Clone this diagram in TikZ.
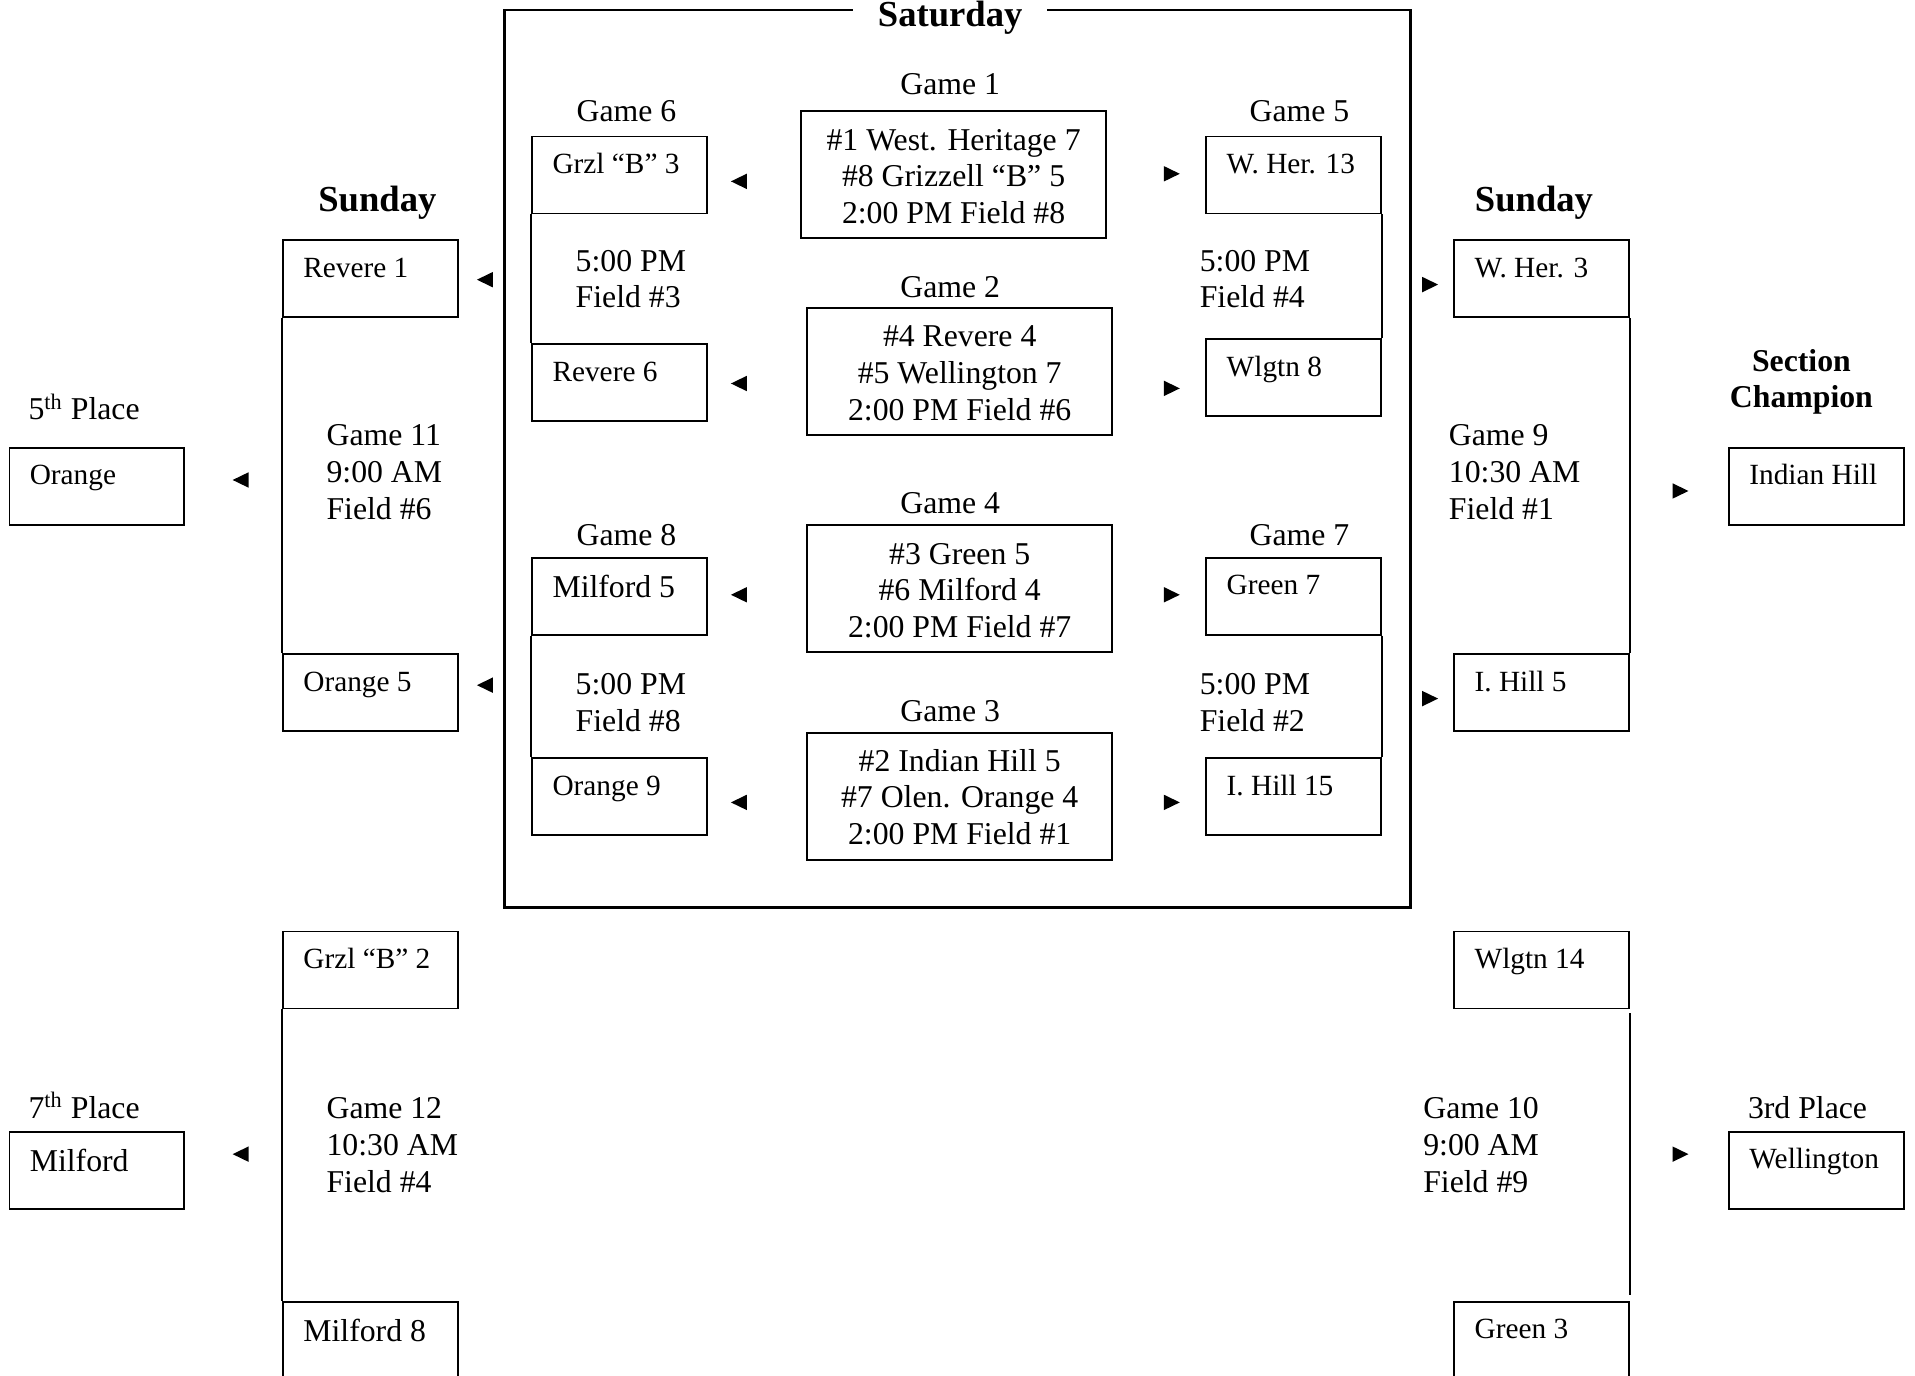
\documentclass[tikz,border=0pt]{standalone}
\usepackage{fontspec}
\setmainfont{Liberation Serif}
\usetikzlibrary{calc}
\tikzset{
  box/.style={draw, line width=0.75pt, minimum width=71.5pt, minimum height=31.5pt, inner sep=0pt, anchor=north west},
  gbox/.style={draw, line width=0.8pt, minimum width=125pt, minimum height=52pt, inner sep=0pt, anchor=north west},
  big/.style={font=\fontsize{13}{15}\selectfont, inner sep=0pt},
  sml/.style={font=\fontsize{12}{14}\selectfont, inner sep=0pt},
  ttl/.style={font=\fontsize{15}{18}\selectfont\bfseries, inner sep=0pt},
  bttl/.style={font=\fontsize{13}{15}\selectfont\bfseries, inner sep=0pt},
  brk/.style={line width=0.75pt},
}
\newcommand\tbox[6]{%
  \node[box] (#1) at (#2,#3) {};
  \node[#4, anchor=base west] (#1t) at ($(#1.north west)+(17,#5)$) {#6};}
\newcommand\ltri[2]{\fill (#1,#2) ++(-6.5,0) -- ++(13,-6.3) -- ++(0,12.6) -- cycle;}
\newcommand\rtri[2]{\fill (#1,#2) ++(6.5,0) -- ++(-13,-6.3) -- ++(0,12.6) -- cycle;}
\begin{document}
\begin{tikzpicture}[x=0.5pt,y=-0.5pt]
\useasboundingbox (0,0) rectangle (1568,1126);
\clip (0,0) rectangle (1568,1126);
\fill[white] (0,0) rectangle (1568,1126);

% Saturday frame
\node[draw, line width=1pt, minimum width=371pt, minimum height=367.5pt, inner sep=0pt, anchor=north west] (sat) at (412,7) {};
\node[ttl, fill=white, inner xsep=10pt, inner ysep=2pt, anchor=base] (satt) at (778,22) {Saturday};

% Saturday first-round games
\node[gbox] (g1) at (655,90) {};
\node[big, anchor=north, align=center] (g1t) at ($(g1.north)+(0,11.5)$) {\strut\#1 West. Heritage 7\\\#8 Grizzell “B” 5\\2:00 PM Field \#8};
\node[big, anchor=base] (g1l) at (778,77.6) {Game 1};

\node[gbox] (g2) at (660,251) {};
\node[big, anchor=north, align=center] (g2t) at ($(g2.north)+(0,11.5)$) {\strut\#4 Revere 4\\\#5 Wellington 7\\2:00 PM Field \#6};
\node[big, anchor=base] (g2l) at (778,243.6) {Game 2};

\node[gbox] (g4) at (660,429) {};
\node[big, anchor=north, align=center] (g4t) at ($(g4.north)+(0,11.5)$) {\strut\#3 Green 5\\\#6 Milford 4\\2:00 PM Field \#7};
\node[big, anchor=base] (g4l) at (778,420.6) {Game 4};

\node[gbox] (g3) at (660,599) {};
\node[big, anchor=north, align=center] (g3t) at ($(g3.north)+(0,11)$) {\strut\#2 Indian Hill 5\\\#7 Olen. Orange 4\\2:00 PM Field \#1};
\node[big, anchor=base] (g3l) at (778,590.6) {Game 3};

% Saturday second-round boxes
\tbox{b6a}{435}{111}{sml}{31}{Grzl “B” 3}
\tbox{b6b}{435}{281}{sml}{31}{Revere 6}
\tbox{b8a}{435}{456}{big}{33}{Milford 5}
\tbox{b8b}{435}{620}{sml}{31}{Orange 9}
\tbox{b5a}{987}{111}{sml}{31}{W. Her. 13}
\tbox{b5b}{987}{277}{sml}{31}{Wlgtn 8}
\tbox{b7a}{987}{456}{sml}{31}{Green 7}
\tbox{b7b}{987}{620}{sml}{31}{I. Hill 15}

\node[big, anchor=base] (g6l) at (513,99.6) {Game 6};
\node[big, anchor=base] (g5l) at (1064,99.6) {Game 5};
\node[big, anchor=base] (g8l) at (513,446.6) {Game 8};
\node[big, anchor=base] (g7l) at (1064,446.6) {Game 7};

\node[big, anchor=north west, align=left] (t6) at (471,200.6) {\strut 5:00 PM\\Field \#3};
\node[big, anchor=north west, align=left] (t5) at (982,200.6) {\strut 5:00 PM\\Field \#4};
\node[big, anchor=north west, align=left] (t8) at (471,547.6) {\strut 5:00 PM\\Field \#8};
\node[big, anchor=north west, align=left] (t7) at (982,547.6) {\strut 5:00 PM\\Field \#2};

\draw[brk] (b6a.south west) -- (b6b.north west);
\draw[brk] (b8a.south west) -- (b8b.north west);
\draw[brk] (b5a.south east) -- (b5b.north east);
\draw[brk] (b7a.south east) -- (b7b.north east);

% Sunday
\node[ttl, anchor=base] (sunl) at (309,173) {Sunday};
\node[ttl, anchor=base] (sunr) at (1256,173) {Sunday};

\tbox{b11a}{231}{196}{sml}{31}{Revere 1}
\tbox{b11b}{231}{535}{sml}{31}{Orange 5}
\tbox{b12a}{231}{762}{sml}{31}{Grzl “B” 2}
\tbox{b12b}{231}{1065}{big}{33}{Milford 8}
\tbox{b9a}{1190}{196}{sml}{31}{W. Her. 3}
\tbox{b9b}{1190}{535}{sml}{31}{I. Hill 5}
\tbox{b10a}{1190}{762}{sml}{31}{Wlgtn 14}
\tbox{b10b}{1190}{1065}{sml}{31}{Green 3}

\draw[brk] (b11a.south west) -- (b11b.north west);
\draw[brk] (b12a.south west) -- (b12b.north west);
\draw[brk] (b9a.south east) -- (b9b.north east);
\draw[brk] ([yshift=-1.5pt]b10a.south east) -- ([yshift=2.5pt]b10b.north east);

\node[big, anchor=north west, align=left] (t11) at (267,343.6) {\strut Game 11\\9:00 AM\\Field \#6};
\node[big, anchor=north west, align=left] (t9) at (1186,343.6) {\strut Game 9\\10:30 AM\\Field \#1};
\node[big, anchor=north west, align=left] (t12) at (267,894.6) {\strut Game 12\\10:30 AM\\Field \#4};
\node[big, anchor=north west, align=left] (t10) at (1165,894.6) {\strut Game 10\\9:00 AM\\Field \#9};

% Final places
\tbox{p5}{7}{366}{sml}{31}{Orange}
\tbox{p7}{7}{926}{big}{33}{Milford}
\tbox{pc}{1415}{366}{sml}{31}{Indian Hill}
\tbox{p3}{1415}{926}{sml}{31}{Wellington}

\node[big, anchor=base west] (l5) at (23,343.6) {5\textsuperscript{th} Place};
\node[big, anchor=base west] (l7) at (23,915.6) {7\textsuperscript{th} Place};
\node[big, anchor=base] (l3) at (1480,915.6) {3rd Place};
\node[bttl, anchor=north, align=center] (lc) at (1475,282.6) {\strut Section\\Champion};

% Arrowheads
\ltri{605}{148.5}
\ltri{605}{314}
\ltri{605}{487}
\ltri{605}{657}
\ltri{397}{229}
\ltri{397}{561}
\ltri{197}{393}
\ltri{197}{945}
\rtri{959.5}{142.3}
\rtri{959.5}{318}
\rtri{959.5}{487}
\rtri{959.5}{657}
\rtri{1171}{233}
\rtri{1171}{572}
\rtri{1376}{402}
\rtri{1376}{945}
\end{tikzpicture}
\end{document}
